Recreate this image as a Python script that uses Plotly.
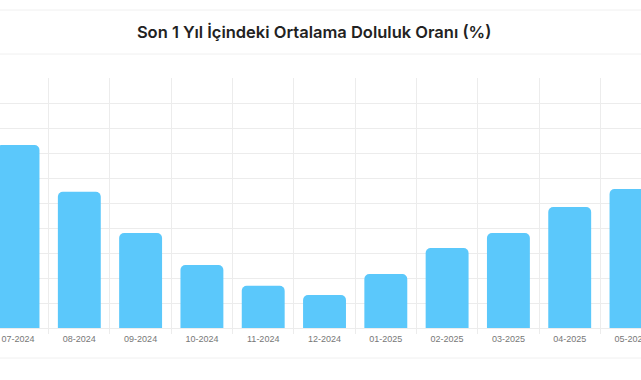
import plotly.graph_objects as go

months = ["07-2024", "08-2024", "09-2024", "10-2024", "11-2024", "12-2024",
          "01-2025", "02-2025", "03-2025", "04-2025", "05-2025"]
occupancy = [73.2, 54.5, 38.0, 25.2, 16.9, 13.2, 21.6, 32.0, 38.0, 48.4, 55.6]
title_text = "Son 1 Yıl İçindeki Ortalama Doluluk Oranı (%)"

grid = "#ececec"

fig = go.Figure(go.Bar(
    x=months, y=occupancy, width=0.7,
    marker=dict(color="#5BC8FB", cornerradius=5, line=dict(width=0)),
    hoverinfo="x+y",
))

fig.update_layout(
    width=641, height=380,
    margin=dict(l=0, r=0, t=78, b=52, autoexpand=False),
    paper_bgcolor="white", plot_bgcolor="white",
    showlegend=False,
    title=dict(text=title_text, x=0.49, xanchor="center", y=1 - 32 / 380, yanchor="middle",
               font=dict(family="Inter", size=16.5, color="#222222", weight=600)),
    xaxis=dict(type="category", range=[-0.294, 10.163], tickson="boundaries", automargin=False,
               showgrid=True, gridcolor=grid, gridwidth=1,
               ticks="outside", ticklen=5, tickcolor=grid, ticklabelstandoff=4,
               showline=False, tickfont=dict(family="Liberation Sans", size=9, color="#777777")),
    yaxis=dict(range=[0, 100], dtick=10, showgrid=True, gridcolor=grid, gridwidth=1,
               showticklabels=False, zeroline=True, zerolinecolor=grid, zerolinewidth=1,
               showline=False, ticks="", automargin=False),
    shapes=[
        dict(type="line", xref="paper", yref="paper", x0=0, x1=1, y0=1.272, y1=1.272,
             line=dict(color="#f0f0f0", width=1)),
        dict(type="line", xref="paper", yref="paper", x0=0, x1=1, y0=1.096, y1=1.096,
             line=dict(color="#f0f0f0", width=1)),
        dict(type="line", xref="paper", yref="paper", x0=0, x1=1, y0=-0.12, y1=-0.12,
             line=dict(color="#f0f0f0", width=1)),
    ],
)

fig.write_html("out.html", config={"displayModeBar": False},
               post_script="document.body.style.margin='0';")
